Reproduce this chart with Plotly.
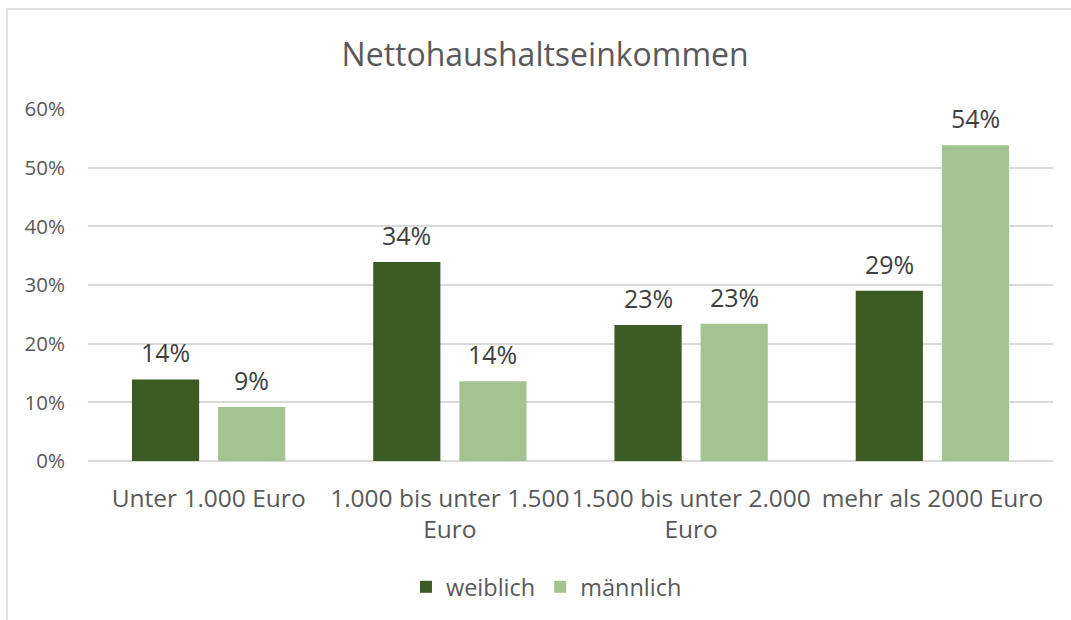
import plotly.graph_objects as go

categories = ["Unter 1.000 Euro", "1.000 bis unter 1.500<br>Euro", "1.500 bis unter 2.000<br>Euro", "mehr als 2000 Euro"]
weiblich = [0.139, 0.339, 0.232, 0.290]
maennlich = [0.092, 0.136, 0.234, 0.538]
series_names = ["weiblich", "männlich"]
colors = ["#3B5A24", "#A3C490"]
y_ticks = [0, 0.1, 0.2, 0.3, 0.4, 0.5, 0.6]

FONT = "Open Sans"

fig = go.Figure()
for name, vals, col in zip(series_names, [weiblich, maennlich], colors):
    fig.add_trace(go.Bar(x=categories, y=vals, name=name, marker=dict(color=col, line=dict(width=0)),
                         hoverinfo="skip"))

bargap = 0.286
slot = (1 - bargap) / 2
for si, vals in enumerate([weiblich, maennlich]):
    off = (si - 0.5) * slot
    for ci, v in enumerate(vals):
        fig.add_annotation(x=ci + off, y=v, xref="x", yref="y", text=f"{round(v*100):.0f}%",
                           showarrow=False, yanchor="bottom", yshift=8,
                           font=dict(family=FONT, size=25, color="#404040"))

fig.add_shape(type="rect", xref="paper", yref="paper", x0=-0.0839, x1=1.2, y0=-0.7, y1=1.284,
              line=dict(color="#D9D9D9", width=1.5), fillcolor="rgba(0,0,0,0)", layer="below")

fig.update_layout(
    width=1071, height=620,
    margin=dict(l=88, r=18, t=109, b=159, autoexpand=False),
    paper_bgcolor="white", plot_bgcolor="white",
    barmode="group", bargap=bargap, bargroupgap=0.22,
    title=dict(text="Nettohaushaltseinkommen", x=0.509, xanchor="center", y=0.911, yanchor="middle",
               font=dict(family=FONT, size=32, color="#595959")),
    legend=dict(orientation="h", x=0.3295, xanchor="left", y=-0.358, yanchor="middle",
                font=dict(family=FONT, size=23.5, color="#595959"), itemwidth=30,
                traceorder="normal"),
    showlegend=True,
)
fig.update_xaxes(tickfont=dict(family=FONT, size=24.5, color="#595959"), showgrid=False,
                 showline=False, ticks="", ticklabelstandoff=20, tickangle=0, automargin=False)
fig.update_yaxes(range=[0, 0.6], tickvals=y_ticks, tickformat=".0%",
                 tickfont=dict(family=FONT, size=20.5, color="#595959"),
                 showgrid=True, gridcolor="#D9D9D9", gridwidth=1.5,
                 zeroline=True, zerolinecolor="#D9D9D9", zerolinewidth=1.5,
                 showline=False, ticks="", ticklabelstandoff=22, automargin=False)

fig.write_html("out.html", config={"displayModeBar": False},
               post_script="document.body.style.margin='0';")
